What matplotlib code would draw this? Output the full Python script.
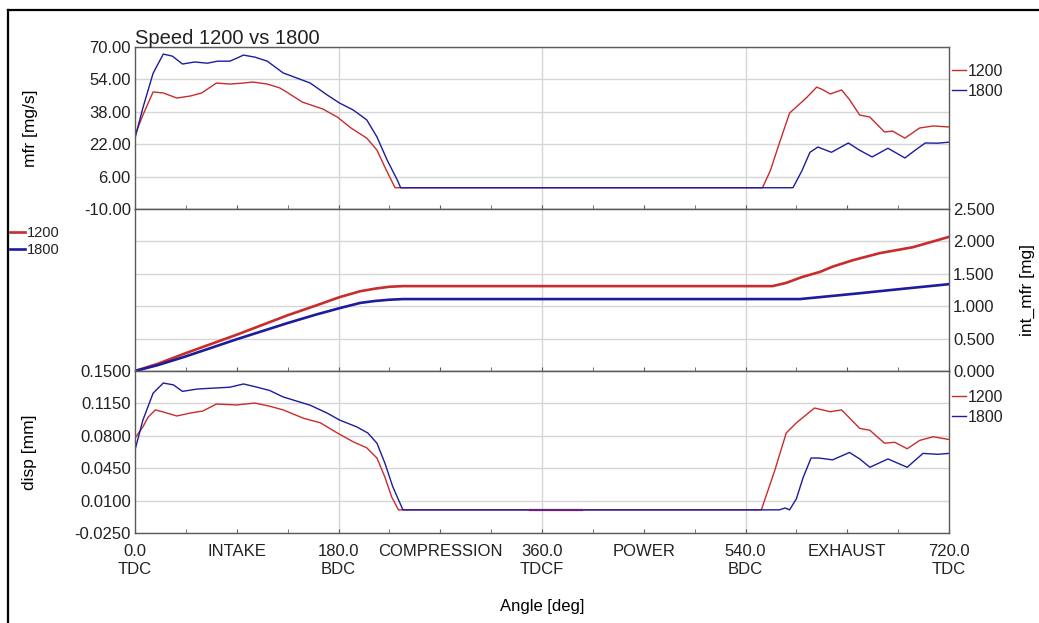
import numpy as np
import matplotlib.pyplot as plt
from matplotlib.ticker import FormatStrFormatter, MultipleLocator
from matplotlib.lines import Line2D

plt.rcParams.update({
    "font.family": "Liberation Sans",
    "font.size": 12,
    "text.color": "#222222",
    "xtick.color": "#222222",
    "ytick.color": "#222222",
})

# data (angle in deg)
ang_mfr_1200 = [0, 7, 16, 25, 37, 49, 59, 72, 84, 96, 104, 117, 128, 134, 148, 166, 179, 191, 205, 214, 221, 230,
                555, 562, 570, 579, 585, 594, 603, 608, 615, 625, 632, 641, 650, 663, 670, 681, 694, 706, 720]
mfr_1200 = [26.5, 36.4, 47.8, 47.3, 44.8, 45.8, 47.3, 52.2, 51.7, 52.2, 52.7, 51.7, 49.8, 47.8, 42.8, 39.4, 35.4, 30, 25, 19.1, 10.7, 0.5,
            0.5, 9, 22.6, 37.4, 40.4, 45, 50.2, 49, 46.8, 48.8, 44, 36.4, 35.4, 28, 28.5, 25, 30, 31, 30.5]

ang_mfr_1800 = [0, 7, 16, 25, 33, 42, 53, 64, 73, 84, 96, 106, 117, 131, 155, 170, 181, 193, 205, 214, 223, 232, 235,
                582, 590, 597, 604, 616, 631, 641, 652, 666, 681, 690, 699, 710, 720]
mfr_1800 = [25, 40, 57, 66.5, 65.5, 61.6, 62.6, 62, 63, 63, 66, 65, 63, 57.2, 52.2, 46.3, 42.3, 38.9, 34, 25.6, 14.2, 4.3, 0.5,
            0.5, 9, 18, 20.6, 18, 22.6, 19, 15.7, 20, 15.2, 19, 22.6, 22.5, 23]

ang_int_1200 = [0, 20, 44, 90, 135, 160, 181, 199, 212, 225, 237, 564, 576, 590, 606, 617, 635, 659, 688, 720]
int_1200 = [0, 0.11, 0.27, 0.56, 0.86, 1.01, 1.14, 1.23, 1.27, 1.30, 1.31, 1.31, 1.36, 1.45, 1.53, 1.61, 1.71, 1.82, 1.91, 2.07]

ang_int_1800 = [0, 20, 44, 90, 135, 160, 181, 199, 212, 225, 237, 588, 600, 641, 680, 720]
int_1800 = [0, 0.09, 0.22, 0.49, 0.74, 0.87, 0.97, 1.05, 1.08, 1.10, 1.11, 1.11, 1.13, 1.20, 1.27, 1.34]

ang_disp_1200 = [0, 7, 11.5, 18, 25, 37, 49, 60, 72, 90, 106, 119, 131, 149, 164, 179, 193, 205, 214, 221, 227, 233,
                 554, 566, 576, 585, 601, 615, 625, 641, 650, 663, 672, 683, 694, 706, 720]
disp_1200 = [0.0776, 0.0897, 0.100, 0.108, 0.1057, 0.1014, 0.1046, 0.1068, 0.1143, 0.1133, 0.1154, 0.112, 0.108, 0.099, 0.094, 0.083, 0.0735, 0.067, 0.056, 0.0355, 0.014, 0.0,
             0.0, 0.043, 0.083, 0.094, 0.11, 0.106, 0.108, 0.088, 0.086, 0.072, 0.073, 0.066, 0.075, 0.079, 0.076]

ang_disp_1800 = [0, 7, 16, 25, 34, 42, 55, 69, 84, 96, 108, 119, 131, 155, 170, 181, 196, 206, 214, 221, 228, 237,
                 570, 575, 579, 585, 591, 598, 605, 617, 632, 641, 650, 666, 683, 697, 710, 720]
disp_1800 = [0.0647, 0.097, 0.126, 0.137, 0.135, 0.128, 0.1305, 0.1315, 0.1325, 0.136, 0.1325, 0.129, 0.122, 0.113, 0.1045, 0.097, 0.0897, 0.083, 0.072, 0.0506, 0.025, 0.0,
             0.0, 0.002, 0.0, 0.012, 0.035, 0.056, 0.056, 0.054, 0.062, 0.055, 0.046, 0.055, 0.046, 0.061, 0.060, 0.061]

# small overlap segment drawn in purple on the bottom baseline
ang_overlap = [349, 395]
disp_overlap = [0.0, 0.0]

x_ticks = [0, 90, 180, 270, 360, 450, 540, 630, 720]
x_labels = ["0.0\nTDC", "INTAKE", "180.0\nBDC", "COMPRESSION", "360.0\nTDCF",
            "POWER", "540.0\nBDC", "EXHAUST", "720.0\nTDC"]

red = "#c82c2c"
blue = "#1c1c9c"
gridc = "#d6d6d6"
spinec = "#5a5a5a"

W, H = 1039, 623
fig = plt.figure(figsize=(W/100, H/100), dpi=100)

def box(top, bottom):
    return [135/W, 1-bottom/H, 814/W, (bottom-top)/H]

ax1 = fig.add_axes(box(47, 209))
ax2 = fig.add_axes(box(209, 371))
ax3 = fig.add_axes(box(371, 533))

for ax in (ax1, ax2, ax3):
    ax.set_xlim(0, 720)
    ax.set_xticks(x_ticks)
    ax.xaxis.set_minor_locator(MultipleLocator(45))
    ax.tick_params(axis="x", which="both", direction="in", length=3, color=spinec, pad=8)
    for v in (180, 360, 540):
        ax.axvline(v, color=gridc, lw=1, zorder=0.5)
    ax.grid(axis="y", color=gridc, lw=1)
    ax.set_axisbelow(True)
    for s in ax.spines.values():
        s.set_color(spinec)
        s.set_linewidth(1)
    ax.tick_params(axis="y", length=0, pad=3)

ax1.tick_params(labelbottom=False)
ax2.tick_params(labelbottom=False)
ax3.set_xticklabels(x_labels)

# top panel: mass flow rate
ax1.plot(ang_mfr_1200, mfr_1200, color=red, lw=1.0, label="1200")
ax1.plot(ang_mfr_1800, mfr_1800, color=blue, lw=1.0, label="1800")
ax1.set_ylim(-10, 70)
ax1.set_yticks(np.arange(-10, 71, 16))
ax1.yaxis.set_major_formatter(FormatStrFormatter("%.2f"))
ax1.set_ylabel("mfr [mg/s]", va="center", ha="center", fontsize=12.5)
ax1.yaxis.set_label_coords(-0.128, 0.5)

# middle panel: integrated mfr, axis on the right
ax2.plot(ang_int_1200, int_1200, color=red, lw=1.9, label="1200")
ax2.plot(ang_int_1800, int_1800, color=blue, lw=1.9, label="1800")
ax2.set_ylim(0, 2.5)
ax2.yaxis.tick_right()
ax2.yaxis.set_label_position("right")
ax2.set_yticks(np.arange(0, 2.51, 0.5))
ax2.yaxis.set_major_formatter(FormatStrFormatter("%.3f"))
ax2.set_ylabel("int_mfr [mg]", va="center", ha="center", rotation=90, fontsize=12.5)
ax2.yaxis.set_label_coords(1.096, 0.5)

# bottom panel: displacement
ax3.plot(ang_disp_1200, disp_1200, color=red, lw=1.0, label="1200")
ax3.plot(ang_disp_1800, disp_1800, color=blue, lw=1.0, label="1800")
ax3.plot(ang_overlap, disp_overlap, color="#6a1f7a", lw=1.6, zorder=3)
ax3.set_ylim(-0.025, 0.15)
ax3.set_yticks(np.arange(-0.025, 0.1501, 0.035))
ax3.yaxis.set_major_formatter(FormatStrFormatter("%.4f"))
ax3.set_ylabel("disp [mm]", va="center", ha="center", fontsize=12.5)
ax3.yaxis.set_label_coords(-0.129, 0.5)
ax3.set_xlabel("Angle [deg]", va="center")
ax3.xaxis.set_label_coords(0.5, (533-607)/162)

h1, l1 = ax1.get_legend_handles_labels()
ax1.legend(h1, l1, loc="upper left", bbox_to_anchor=(952/W, 1-64/H), bbox_transform=fig.transFigure,
           frameon=False, borderpad=0, borderaxespad=0, handlelength=0.85, handletextpad=0.15,
           labelspacing=0.3, fontsize=11.5)
h2, l2 = ax2.get_legend_handles_labels()
ax2.legend(h2, l2, loc="upper left", bbox_to_anchor=(10/W, 1-226/H), bbox_transform=fig.transFigure,
           frameon=False, borderpad=0, borderaxespad=0, handlelength=1.0, handletextpad=0.15,
           labelspacing=0.2, fontsize=10.5)
h3, l3 = ax3.get_legend_handles_labels()
ax3.legend(h3[:2], l3[:2], loc="upper left", bbox_to_anchor=(952/W, 1-390/H), bbox_transform=fig.transFigure,
           frameon=False, borderpad=0, borderaxespad=0, handlelength=0.85, handletextpad=0.15,
           labelspacing=0.3, fontsize=11.5)

fig.text(135/W, 1-44/H, "Speed 1200 vs 1800", fontsize=14.5, va="baseline")

# outer frame (left and top edges only)
fig.add_artist(Line2D([8/W, 8/W], [0, 1-10/H], transform=fig.transFigure, color="black", lw=1.6))
fig.add_artist(Line2D([8/W, 1], [1-10/H, 1-10/H], transform=fig.transFigure, color="black", lw=1.6))

fig.savefig("out.png", dpi=100)
